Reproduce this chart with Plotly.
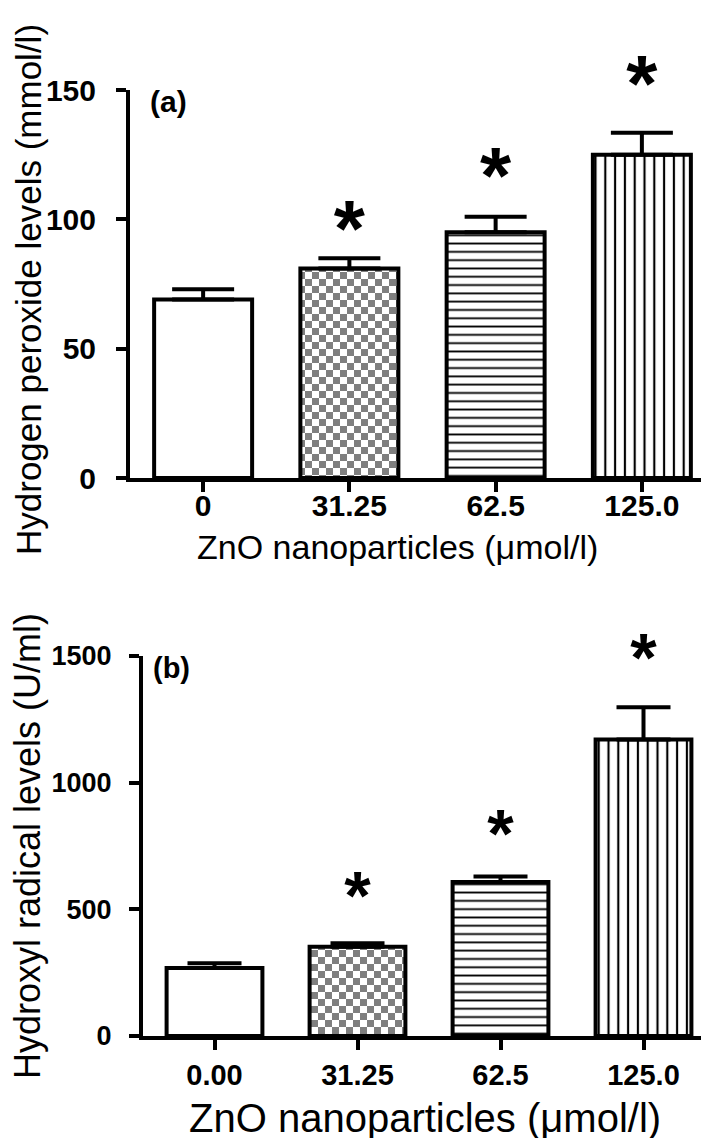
import plotly.graph_objects as go

# ---------------- data ----------------
categories_a = ["0", "31.25", "62.5", "125.0"]
h2o2_mean = [69, 81, 95, 125]
h2o2_sem = [4, 4, 6, 8.5]
# level (data units) of the "*" significance marks, None = no mark
star_level_a = [None, 93.5, 114, 149.5]

categories_b = ["0.00", "31.25", "62.5", "125.0"]
hydroxyl_mean = [268, 352, 608, 1170]
hydroxyl_sem = [19, 14, 22, 128]
star_level_b = [None, 530, 775, 1470]

y_ticks_a = [0, 50, 100, 150]
y_ticks_b = [0, 500, 1000, 1500]

W, H = 709, 1138
FONT = "Liberation Sans, Arial, sans-serif"


def px_x(v):
    return v / W


def px_y(v):
    return 1 - v / H


# checkerboard tile path (14 px tile, 7 px squares)
CHECKER = "M0,0H7V7H0Z M7,7H14V14H7Z"


def make_pattern(i):
    if i == 0:
        return dict(shape="")
    if i == 1:
        try:
            go.bar.marker.Pattern(path=CHECKER)
            return dict(path=CHECKER, size=14, fgcolor="black", bgcolor="white",
                        fillmode="overlay", solidity=0.5)
        except Exception:
            return dict(shape="+", size=14, solidity=0.5, fgcolor="black", bgcolor="white")
    if i == 2:
        return dict(shape="-", size=8.3, solidity=0.22, fgcolor="black", bgcolor="white")
    return dict(shape="|", size=9.8, solidity=0.22, fgcolor="black", bgcolor="white")


fig = go.Figure()

panels = [
    (categories_a, h2o2_mean, h2o2_sem, "x", "y", 31),
    (categories_b, hydroxyl_mean, hydroxyl_sem, "x2", "y2", 27),
]
for cats, means, sems, xa, ya, capw in panels:
    for i, (c, m, s) in enumerate(zip(cats, means, sems)):
        fig.add_trace(go.Bar(
            x=[c], y=[m], width=0.67, xaxis=xa, yaxis=ya,
            marker=dict(color="white", line=dict(color="black", width=4),
                        pattern=make_pattern(i)),
            error_y=dict(type="data", array=[s], arrayminus=[0], symmetric=False,
                         thickness=4, width=capw, color="black"),
            showlegend=False, hoverinfo="skip",
        ))

# significance stars as text marks
for cats, levels, xa, ya, fs in [
    (categories_a, star_level_a, "x", "y", 80),
    (categories_b, star_level_b, "x2", "y2", 68),
]:
    xs = [c for c, lv in zip(cats, levels) if lv is not None]
    ys = [lv for lv in levels if lv is not None]
    fig.add_trace(go.Scatter(
        x=xs, y=ys, xaxis=xa, yaxis=ya, mode="text", text=["*"] * len(xs),
        textposition="middle center", cliponaxis=False,
        textfont=dict(size=fs, weight="bold", family=FONT, color="black"),
        showlegend=False, hoverinfo="skip",
    ))

axis_common = dict(showline=True, linewidth=4, linecolor="black", ticks="outside",
                   ticklen=10, tickwidth=4, tickcolor="black", showgrid=False,
                   zeroline=False, fixedrange=True, automargin=False)

fig.update_layout(
    template="none",
    width=W, height=H, margin=dict(l=0, r=0, t=0, b=0, pad=0),
    paper_bgcolor="white", plot_bgcolor="white", barmode="overlay",
    font=dict(family=FONT, color="black"),
    xaxis=dict(domain=[px_x(122), px_x(707)], anchor="y", type="category",
               range=[-0.5, 3.5], categoryorder="array", categoryarray=categories_a,
               ticklabelstandoff=-12,
               tickfont=dict(size=30, weight="bold", family=FONT), **axis_common),
    yaxis=dict(domain=[px_y(470), px_y(82)], anchor="x", range=[0, 150],
               tickvals=y_ticks_a, ticklabelstandoff=14,
               tickfont=dict(size=30, weight="bold", family=FONT), **axis_common),
    xaxis2=dict(domain=[px_x(135), px_x(707)], anchor="y2", type="category",
                range=[-0.5, 3.5], categoryorder="array", categoryarray=categories_b,
                tickfont=dict(size=29, weight="bold", family=FONT), **axis_common),
    yaxis2=dict(domain=[px_y(1028), px_y(648)], anchor="x2", range=[0, 1500],
                tickvals=y_ticks_b, ticklabelstandoff=12,
                tickfont=dict(size=27, weight="bold", family=FONT), **axis_common),
)


def label(text, x, y, size, bold=False, angle=0):
    f = dict(size=size, family=FONT)
    if bold:
        f["weight"] = "bold"
    return dict(x=px_x(x), y=px_y(y), xref="paper", yref="paper", text=text,
                showarrow=False, xanchor="center", yanchor="middle",
                textangle=angle, font=f)


fig.update_layout(annotations=[
    label("(a)", 160, 93, 30, bold=True),
    label("(b)", 163, 660, 29, bold=True),
    label("ZnO nanoparticles (μmol/l)", 389, 539, 34),
    label("ZnO nanoparticles (μmol/l)", 417, 1110, 40),
    label("Hydrogen peroxide levels (mmol/l)", 20, 282, 35, angle=-90),
    label("Hydroxyl radical levels (U/ml)", 19, 838, 36, angle=-90),
])

fig.write_html("out.html")
